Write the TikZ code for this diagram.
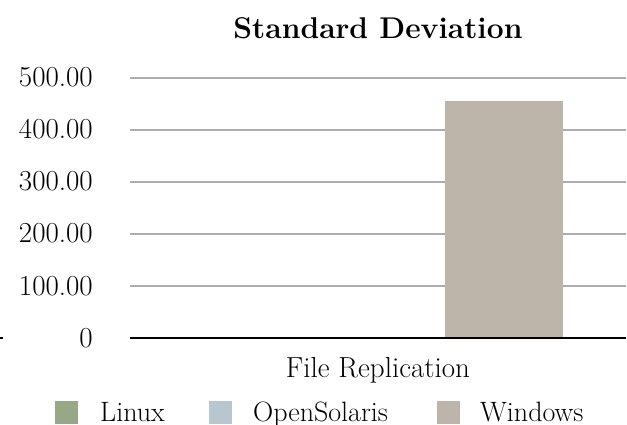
\documentclass[tikz,border=0pt]{standalone}
\definecolor{linuxc}{RGB}{150,168,134}
\definecolor{solc}{RGB}{184,198,208}
\definecolor{winc}{RGB}{189,181,169}
\definecolor{gridc}{RGB}{173,173,173}
\begin{document}
\begin{tikzpicture}[x=1pt,y=-1pt,
  ylab/.style={anchor=base east,inner sep=0pt,font=\fontsize{29}{33}\selectfont},
  gridln/.style={draw=gridc,line width=2pt},
  legtxt/.style={anchor=base west,inner sep=0pt,font=\fontsize{28}{32}\selectfont},
  legsq/.style={draw=none,inner sep=0pt,minimum size=23pt}]
\useasboundingbox (0,0) rectangle (627,425);
% gridlines
\foreach \v/\y in {500/78,400/130,300/182,200/234,100/286}{
  \coordinate (gl\v) at (130,\y);
  \coordinate (gr\v) at (626,\y);
  \draw[gridln] (gl\v) -- (gr\v);
}
% y labels
\node[ylab] (l500) at (93,87) {500.00};
\node[ylab] (l400) at (93,139) {400.00};
\node[ylab] (l300) at (93,191) {300.00};
\node[ylab] (l200) at (93,243) {200.00};
\node[ylab] (l100) at (93,295) {100.00};
\node[ylab] (l0) at (93,347) {0};
% bar
\fill[winc] (445,101) rectangle (563,338);
% axis
\coordinate (al) at (130,338);
\coordinate (ar) at (626,338);
\draw[black,line width=2.6pt] (al) -- (ar);
\coordinate (tl) at (0,338);
\coordinate (tr) at (3,338);
\draw[black,line width=2pt] (tl) -- (tr);
% title and category
\node[anchor=base,inner sep=0pt,font=\fontsize{30}{34}\selectfont\bfseries] (title) at (378,39) {Standard Deviation};
\node[anchor=base,inner sep=0pt,font=\fontsize{29}{33}\selectfont] (cat) at (378,377) {File Replication};
% legend
\node[legsq,fill=linuxc] (s1) at (66,412.5) {};
\node[legtxt] (t1) at (100,421) {Linux};
\node[legsq,fill=solc] (s2) at (220,412.5) {};
\node[legtxt] (t2) at (253,421) {OpenSolaris};
\node[legsq,fill=winc] (s3) at (448,412.5) {};
\node[legtxt] (t3) at (480,421) {Windows};
\end{tikzpicture}
\end{document}
